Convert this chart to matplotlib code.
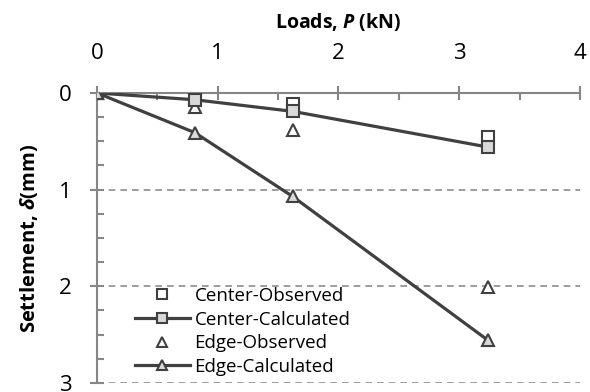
import matplotlib
matplotlib.use("Agg")
import matplotlib.pyplot as plt
from matplotlib.ticker import MultipleLocator

# data
loads = [0, 0.81, 1.62, 3.24]
center_obs = [0, 0.06, 0.11, 0.46]
center_calc = [0, 0.07, 0.19, 0.56]
edge_obs = [0, 0.14, 0.38, 2.01]
edge_calc = [0, 0.41, 1.07, 2.56]

x_ticks = [0, 1, 2, 3, 4]
y_ticks = [0, 1, 2, 3]

plt.rcParams["font.family"] = ["Open Sans", "DejaVu Sans"]
plt.rcParams["mathtext.fontset"] = "custom"
plt.rcParams["mathtext.it"] = "Open Sans:bold:italic"
plt.rcParams["mathtext.rm"] = "Open Sans:bold"

dark = "#404040"
axis_gray = "#868686"

fig = plt.figure(figsize=(5.9, 3.92), dpi=100)
ax = fig.add_axes([0.1644, 0.023, 0.8186, 0.7398])

ax.plot(loads, center_obs, linestyle="none", marker="s", markersize=9,
        markerfacecolor="white", markeredgecolor=dark, markeredgewidth=1.5,
        label="Center-Observed", zorder=3)
ax.plot(loads, center_calc, color=dark, linewidth=2.3, marker="s", markersize=9,
        markerfacecolor="#d9d9d9", markeredgecolor=dark, markeredgewidth=1.5,
        label="Center-Calculated", zorder=4)
ax.plot(loads, edge_obs, linestyle="none", marker="^", markersize=9,
        markerfacecolor="white", markeredgecolor=dark, markeredgewidth=1.5,
        label="Edge-Observed", zorder=3)
ax.plot(loads, edge_calc, color=dark, linewidth=2.3, marker="^", markersize=9,
        markerfacecolor="#d9d9d9", markeredgecolor=dark, markeredgewidth=1.5,
        label="Edge-Calculated", zorder=4)

ax.set_xlim(0, 4)
ax.set_ylim(3, 0)
ax.set_xticks(x_ticks)
ax.set_yticks(y_ticks)
ax.xaxis.set_minor_locator(MultipleLocator(0.5))
ax.yaxis.set_minor_locator(MultipleLocator(0.25))

ax.xaxis.tick_top()
ax.xaxis.set_label_position("top")

for side in ["right", "bottom"]:
    ax.spines[side].set_visible(False)
for side in ["top", "left"]:
    ax.spines[side].set_color(axis_gray)
    ax.spines[side].set_linewidth(1.5)
ax.spines["top"].set_zorder(2)

ax.tick_params(which="major", direction="inout", length=10, width=1.5,
               color=axis_gray, labelsize=16)
ax.tick_params(axis="x", which="major", pad=16)
ax.tick_params(axis="y", which="major", pad=13)
ax.tick_params(which="minor", direction="in", length=5, width=1.5,
               color=axis_gray)

ax.grid(axis="y", which="major", linestyle="--", color="#8c8c8c",
        linewidth=1.2, dashes=(4, 3))
ax.set_axisbelow(True)

ax.set_xlabel("Loads, $P$ (kN)", fontsize=14, fontweight="bold", labelpad=11)
ax.set_ylabel("Settlement, $\\delta$(mm)", fontsize=14.5, fontweight="bold", labelpad=14)

leg = ax.legend(loc="center left", bbox_to_anchor=(0.079, 0.178), frameon=False,
                fontsize=13.5, handlelength=2.9, handletextpad=0.27,
                labelspacing=0.3, borderaxespad=0, borderpad=0, markerscale=0.8)

fig.savefig("out.png", dpi=100)
